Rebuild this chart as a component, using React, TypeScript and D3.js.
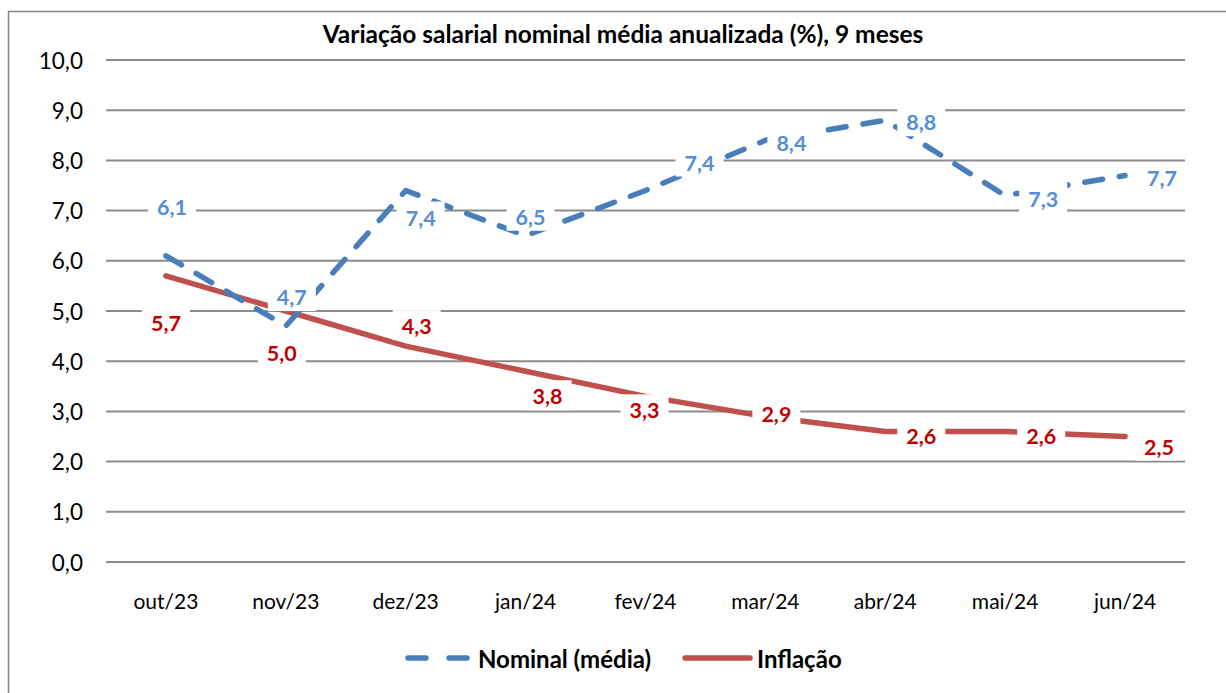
import React from "react";
import * as d3 from "d3";

const categories = ["out/23", "nov/23", "dez/23", "jan/24", "fev/24", "mar/24", "abr/24", "mai/24", "jun/24"];
const nominal = [6.1, 4.7, 7.4, 6.5, 7.4, 8.4, 8.8, 7.3, 7.7];
const inflacao = [5.7, 5.0, 4.3, 3.8, 3.3, 2.9, 2.6, 2.6, 2.5];
const yTicks = [0, 1, 2, 3, 4, 5, 6, 7, 8, 9, 10];
const title = "Variação salarial nominal média anualizada (%), 9 meses";
const seriesNames = ["Nominal (média)", "Inflação"];

// label placement offsets (px) relative to each point
const nominalOffsets: [number, number][] = [[6, -50], [6, -30], [15, 26], [5, -20], [54, -29], [26, 2], [36, 1], [38, 2], [37, 2]];
const inflacaoOffsets: [number, number][] = [[0, 46], [-4, 41], [11, -21], [22, 24], [-1, 13], [11, -3], [36, 4], [36, 4], [34, 9]];

const W = 1226, H = 693;
const left = 106, right = 1185, top = 60, bottom = 562;
const FONT = "Lato, 'Open Sans', sans-serif";
const BLUE = "#4A7EBB", BLUE_LBL = "#558ED5", RED = "#C0504D", RED_LBL = "#C00000", GRID = "#8C8C8C";

const fmt = (v: number) => v.toFixed(1).replace(".", ",");

export default function App() {
  const x = d3.scaleBand<string>().domain(categories).range([left, right]);
  const cx = (c: string) => (x(c) as number) + x.bandwidth() / 2;
  const y = d3.scaleLinear().domain([0, 10]).range([bottom, top]);
  const line = d3.line<number>().x((_, i) => cx(categories[i])).y((v) => y(v));

  const labels = (vals: number[], offs: [number, number][], color: string, key: string) =>
    vals.map((v, i) => {
      const px = cx(categories[i]) + offs[i][0];
      const py = y(v) + offs[i][1];
      return (
        <g key={key + i}>
          <rect x={px - 24} y={py - 15} width={48} height={30} fill="#fff" />
          <text x={px} y={py + 1} fill={color} fontSize={21.5} fontWeight="bold" textAnchor="middle" dominantBaseline="central" fontFamily={FONT}>
            {fmt(v)}
          </text>
        </g>
      );
    });

  return (
    <svg width={W} height={H} style={{ position: "absolute", left: 0, top: 0, background: "#fff" }}>
      <rect x={0} y={0} width={W} height={H} fill="#fff" />
      <rect x={8.5} y={11.5} width={1300} height={800} fill="none" stroke="#868686" strokeWidth={1.5} />
      <text x={623} y={33} textAnchor="middle" dominantBaseline="central" fontSize={24.5} fontWeight="bold" fontFamily={FONT} fill="#000">
        {title}
      </text>
      {yTicks.map((t) => (
        <g key={t}>
          <line x1={left} x2={right} y1={y(t)} y2={y(t)} stroke={GRID} strokeWidth={2} />
          <text x={83} y={y(t)} textAnchor="end" dominantBaseline="central" fontSize={22.5} fontFamily={FONT} fill="#000">
            {fmt(t)}
          </text>
        </g>
      ))}
      {categories.map((c) => (
        <text key={c} x={cx(c)} y={600} textAnchor="middle" dominantBaseline="central" fontSize={21} fontFamily={FONT} fill="#000">
          {c}
        </text>
      ))}
      <path d={line(inflacao) as string} fill="none" stroke={RED} strokeWidth={5.5} strokeLinecap="round" strokeLinejoin="round" />
      <path d={line(nominal) as string} fill="none" stroke={BLUE} strokeWidth={5.5} strokeLinecap="round" strokeLinejoin="round" strokeDasharray="18 17" />
      {labels(nominal, nominalOffsets, BLUE_LBL, "n")}
      {labels(inflacao, inflacaoOffsets, RED_LBL, "i")}
      <g>
        <line x1={408} x2={469} y1={658} y2={658} stroke={BLUE} strokeWidth={5.5} strokeLinecap="round" strokeDasharray="18 23" />
        <text x={478} y={658} dominantBaseline="central" fontSize={24} fontWeight="bold" fontFamily={FONT} fill="#000">
          {seriesNames[0]}
        </text>
        <line x1={685} x2={750} y1={658} y2={658} stroke={RED} strokeWidth={5.5} strokeLinecap="round" />
        <text x={757} y={658} dominantBaseline="central" fontSize={24} fontWeight="bold" fontFamily={FONT} fill="#000">
          {seriesNames[1]}
        </text>
      </g>
    </svg>
  );
}
